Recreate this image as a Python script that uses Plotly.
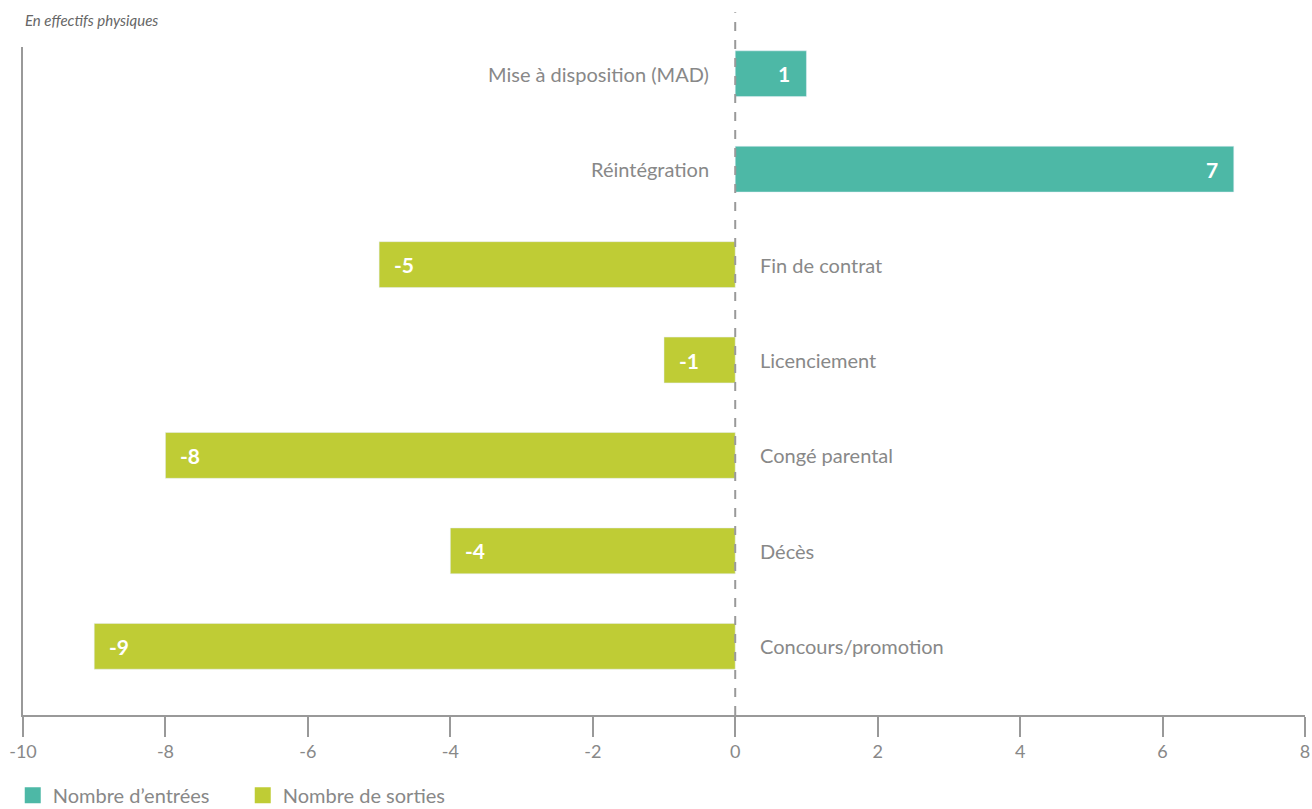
import plotly.graph_objects as go

categories = ["Mise à disposition (MAD)", "Réintégration", "Fin de contrat", "Licenciement",
              "Congé parental", "Décès", "Concours/promotion"]
entrees = [1, 7, None, None, None, None, None]
sorties = [None, None, -5, -1, -8, -4, -9]
tick_vals = [-10, -8, -6, -4, -2, 0, 2, 4, 6, 8]
tick_text = ["-10", "-8", "-6", "-4", "-2", "0", "2", "4", "6", "8"]

TEAL = "#4DB8A6"
OLIVE = "#BFCC35"
GREY = "#888888"
FONT = "Lato"

fig = go.Figure()

fig.add_trace(go.Bar(y=categories, x=entrees, orientation="h", marker_color=TEAL, width=0.48,
                     showlegend=False, hoverinfo="x+y"))
fig.add_trace(go.Bar(y=categories, x=sorties, orientation="h", marker_color=OLIVE, width=0.48,
                     showlegend=False, hoverinfo="x+y"))

# legend items
fig.add_trace(go.Scatter(x=[None], y=[None], mode="markers", name="Nombre d’entrées",
                         marker=dict(symbol="square", size=20, color=TEAL)))
fig.add_trace(go.Scatter(x=[None], y=[None], mode="markers", name="Nombre de sorties",
                         marker=dict(symbol="square", size=20, color=OLIVE)))

# category labels beside zero line, value labels inside bars
for cat, e, s in zip(categories, entrees, sorties):
    v = e if e is not None else s
    if v > 0:
        fig.add_annotation(x=0, y=cat, text=cat, showarrow=False, xanchor="right", xshift=-24,
                           font=dict(size=20, color=GREY, family=FONT))
        fig.add_annotation(x=v, y=cat, text=f"<b>{v}</b>", showarrow=False, xanchor="right",
                           xshift=-14, font=dict(size=21, color="white", family=FONT))
    else:
        fig.add_annotation(x=0, y=cat, text=cat, showarrow=False, xanchor="left", xshift=23,
                           font=dict(size=20, color=GREY, family=FONT))
        fig.add_annotation(x=v, y=cat, text=f"<b>{v}</b>", showarrow=False, xanchor="left",
                           xshift=13, font=dict(size=21, color="white", family=FONT))

fig.add_annotation(x=0, xref="paper", y=1.04, yref="paper", text="<i>En effectifs physiques</i>",
                   showarrow=False, yanchor="middle", xanchor="left",
                   font=dict(size=15, color="#666666", family=FONT))

# dashed zero line
fig.add_shape(type="line", x0=0, x1=0, xref="x", y0=0, y1=1.052, yref="paper",
              line=dict(color="#999999", width=2, dash="dash"))

fig.update_xaxes(range=[-10, 8], tickvals=tick_vals, ticktext=tick_text, showgrid=False,
                 zeroline=False, automargin=False,
                 showline=True, linecolor="#999999", linewidth=1.5,
                 ticks="outside", ticklen=20, tickcolor="#999999", tickwidth=1.5,
                 tickfont=dict(size=18, color=GREY, family=FONT))
fig.update_yaxes(range=[6.72, -0.28], showticklabels=False, showgrid=False, zeroline=False,
                 automargin=False,
                 showline=True, linecolor="#999999", linewidth=1.5, ticks="")

fig.update_layout(
    width=1312, height=809, barmode="overlay",
    margin=dict(l=23, r=7, t=47, b=94, autoexpand=False),
    plot_bgcolor="white", paper_bgcolor="white",
    font=dict(family=FONT, color=GREY),
    legend=dict(orientation="h", x=-0.008, xanchor="left", y=-0.12, yanchor="middle",
                font=dict(size=20, color=GREY, family=FONT), itemsizing="trace",
                traceorder="normal", entrywidth=185, entrywidthmode="pixels"),
)

fig.write_html("out.html")
